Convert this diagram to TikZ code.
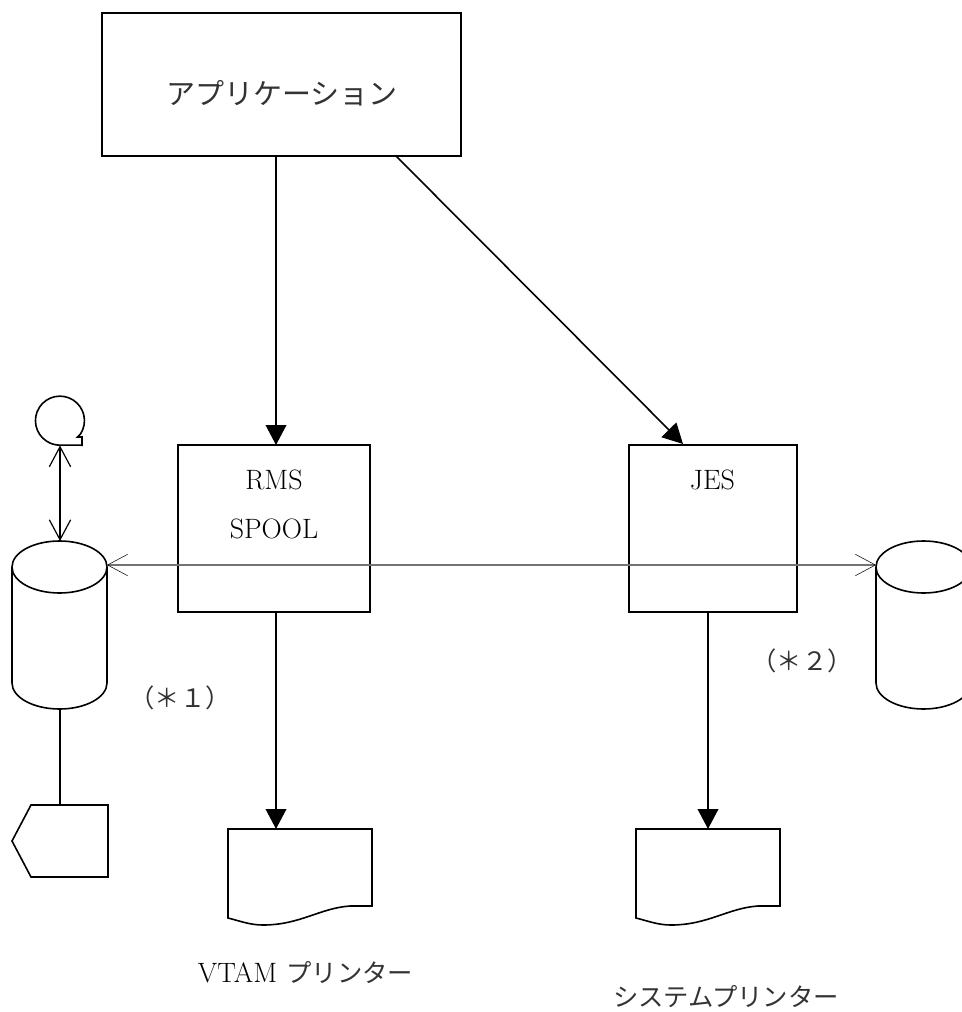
\documentclass[tikz,border=0pt]{standalone}
\usepackage{fontspec}
\usetikzlibrary{arrows.meta}
\newfontfamily\jpf{Noto Sans CJK JP}
\tikzset{
  x=0.75pt,y=-0.75pt,
  boxed/.style={draw=black,line width=1.25pt,fill=none,inner sep=0pt,outer sep=0pt,minimum width=#1},
  shapeline/.style={draw=black,line width=1.2pt,line join=miter},
  conn/.style={draw=black,line width=1.2pt},
  solidarrow/.style={conn,-{Triangle[length=15pt,width=15.5pt]}},
  openboth/.style={conn,{Straight Barb[length=15pt,width=16pt,line width=0.9pt]}-{Straight Barb[length=15pt,width=16pt,line width=0.9pt]}},
  thinboth/.style={draw=black!55,line width=0.95pt,{Straight Barb[black,length=15pt,width=16pt,line width=0.4pt]}-{Straight Barb[black,length=15pt,width=16pt,line width=0.4pt]}},
  lab/.style={inner sep=0pt,font=\fontsize{21}{24}\selectfont,text=black},
  jlab/.style={inner sep=0pt,font=\fontsize{19}{22}\jpf\selectfont,text=black!80},
  jbig/.style={inner sep=0pt,font=\fontsize{21.75}{24}\jpf\selectfont,text=black!80},
}
\begin{document}
\begin{tikzpicture}
\useasboundingbox (0,0) rectangle (962,1012);
\clip (0,0) rectangle (962,1012);
% boxes
\node[boxed=269.25pt,minimum height=107.25pt] (app) at (281.5,84.5) {};
\node[boxed=144pt,minimum height=125.25pt] (rms) at (274,528.5) {};
\node[boxed=126pt,minimum height=125.25pt] (jes) at (713,528.5) {};
% left cylinder
\draw[shapeline] (12,567) arc[start angle=180,end angle=-180,x radius=47.5,y radius=26];
\draw[shapeline] (12,567) -- (12,683) arc[start angle=180,end angle=0,x radius=47.5,y radius=26] -- (107,567);
% right cylinder
\draw[shapeline] (876,567) arc[start angle=180,end angle=-180,x radius=47.5,y radius=26];
\draw[shapeline] (876,567) -- (876,683) arc[start angle=180,end angle=0,x radius=47.5,y radius=26] -- (971,567);
% tape
\draw[shapeline] (82,445.2) -- (82,437) -- (77.5,437) -- (80.5,434) arc[start angle=33,end angle=-270,radius=24.5] -- cycle;
% card
\draw[shapeline] (31,805) -- (108,805) -- (108,877) -- (31,877) -- (12,841) -- cycle;
% documents
\draw[shapeline] (228,829) -- (372,829) -- (372,906) -- (350,906) .. controls (320,908) and (300,925) .. (263,925) .. controls (250,925) and (240,921) .. (228,918) -- cycle;
\draw[shapeline] (636,829) -- (780,829) -- (780,906) -- (758,906) .. controls (728,908) and (708,925) .. (671,925) .. controls (658,925) and (648,921) .. (636,918) -- cycle;
% named connection points
\coordinate (tapeb) at (60,445.5);
\coordinate (cyltop) at (60,541);
\coordinate (cylbot) at (60,709);
\coordinate (cardtop) at (60,805);
\coordinate (cylL) at (107,565);
\coordinate (cylR) at (876,565);
\coordinate (appd) at (396,156);
\coordinate (jest) at (683,444);
\coordinate (appa) at (276,156);
\coordinate (rmst) at (276,445);
\coordinate (rmsb) at (276,612);
\coordinate (doca) at (276,829);
\coordinate (jesb) at (708,612);
\coordinate (docb) at (708,829);
% connectors
\draw[solidarrow] (appa) -- (rmst);
\draw[solidarrow] (appd) -- (jest);
\draw[solidarrow] (rmsb) -- (doca);
\draw[solidarrow] (jesb) -- (docb);
\draw[openboth] (tapeb) -- (cyltop);
\draw[conn] (cylbot) -- (cardtop);
\draw[thinboth] (cylL) -- (cylR);
% text
\node[jbig] (t1) at (282,93) {アプリケーション};
\node[lab] (t2) at (274,480) {RMS};
\node[lab] (t3) at (274,529) {SPOOL};
\node[lab] (t4) at (712.5,480) {JES};
\node[jlab] (t5) at (180,698) {（＊１）};
\node[jlab] (t6) at (802,661) {（＊２）};
\node[lab] (t7) at (305.5,973) {VTAM\hspace{7pt}{\fontsize{19}{22}\jpf\color{black!80}プリンター}};
\node[jlab] (t8) at (726,997) {システムプリンター};
\end{tikzpicture}
\end{document}
